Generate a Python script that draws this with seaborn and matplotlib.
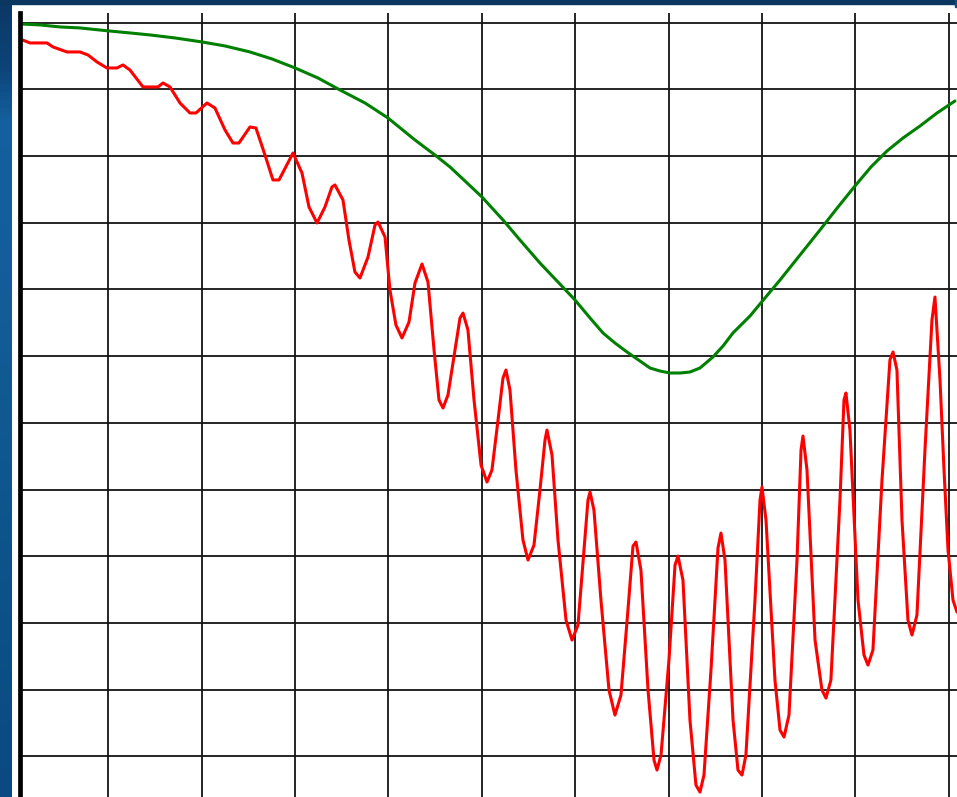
import numpy as np
import pandas as pd
import matplotlib
matplotlib.use("Agg")
import matplotlib.pyplot as plt
from matplotlib.patches import Rectangle
from matplotlib.colors import LinearSegmentedColormap
import seaborn as sns

# ---- data (x in grid divisions, y in divisions below the top line) ----
green_x = [0.055, 0.269, 0.483, 0.697, 1.007, 1.232, 1.447, 1.714, 2.003, 2.250,
           2.517, 2.753, 3.000, 3.245, 3.481, 3.749, 3.995, 4.284, 4.498, 4.659,
           4.830, 5.001, 5.226, 5.408, 5.622, 5.815, 5.997, 6.158, 6.297, 6.425,
           6.554, 6.693, 6.800, 6.907, 7.014, 7.121, 7.228, 7.335, 7.474, 7.582,
           7.688, 7.871, 8.031, 8.192, 8.406, 8.620, 8.813, 8.995, 9.166, 9.337,
           9.509, 9.691, 9.873, 10.065]
green_y = [-0.019, -0.034, -0.064, -0.079, -0.124, -0.154, -0.184, -0.229, -0.289, -0.349,
           -0.439, -0.544, -0.679, -0.829, -1.009, -1.204, -1.429, -1.759, -1.984, -2.163,
           -2.388, -2.613, -2.958, -3.258, -3.603, -3.888, -4.157, -4.427, -4.652, -4.802,
           -4.937, -5.072, -5.177, -5.222, -5.252, -5.252, -5.237, -5.177, -5.012, -4.847,
           -4.652, -4.397, -4.127, -3.858, -3.483, -3.108, -2.763, -2.448, -2.163, -1.924,
           -1.729, -1.549, -1.354, -1.174]

red_x = [0.055, 0.162, 0.344, 0.408, 0.558, 0.697, 0.783, 0.879, 0.986, 1.093,
         1.157, 1.232, 1.372, 1.532, 1.586, 1.661, 1.768, 1.875, 1.939, 2.057,
         2.142, 2.250, 2.335, 2.399, 2.517, 2.581, 2.678, 2.763, 2.828, 2.978,
         3.074, 3.149, 3.235, 3.320, 3.395, 3.427, 3.513, 3.577, 3.641, 3.695,
         3.781, 3.856, 3.888, 3.963, 4.016, 4.080, 4.145, 4.220, 4.284, 4.359,
         4.423, 4.488, 4.541, 4.584, 4.637, 4.712, 4.766, 4.798, 4.851, 4.916,
         4.991, 5.055, 5.108, 5.173, 5.226, 5.258, 5.301, 5.365, 5.440, 5.494,
         5.558, 5.622, 5.676, 5.697, 5.751, 5.815, 5.901, 5.965, 6.029, 6.093,
         6.136, 6.158, 6.200, 6.275, 6.361, 6.425, 6.489, 6.564, 6.618, 6.650,
         6.703, 6.779, 6.843, 6.875, 6.918, 7.003, 7.068, 7.100, 7.153, 7.228,
         7.292, 7.335, 7.378, 7.453, 7.528, 7.560, 7.603, 7.689, 7.742, 7.785,
         7.827, 7.924, 7.978, 7.999, 8.042, 8.138, 8.192, 8.235, 8.288, 8.374,
         8.417, 8.438, 8.481, 8.567, 8.641, 8.684, 8.737, 8.834, 8.877, 8.898,
         8.941, 9.027, 9.091, 9.134, 9.187, 9.284, 9.369, 9.402, 9.444, 9.498,
         9.562, 9.605, 9.658, 9.744, 9.819, 9.851, 9.905, 9.948, 9.991, 10.044,
         10.087]
red_y = [-0.244, -0.304, -0.304, -0.364, -0.439, -0.439, -0.484, -0.589, -0.679, -0.679,
         -0.634, -0.709, -0.964, -0.964, -0.904, -0.964, -1.204, -1.354, -1.354, -1.204,
         -1.279, -1.609, -1.804, -1.804, -1.564, -1.579, -1.984, -2.358, -2.358, -1.954,
         -2.253, -2.763, -3.003, -2.763, -2.463, -2.433, -2.658, -3.258, -3.738, -3.828,
         -3.513, -3.033, -2.988, -3.213, -4.008, -4.532, -4.727, -4.487, -3.903, -3.618,
         -3.888, -4.907, -5.657, -5.777, -5.582, -4.907, -4.427, -4.353, -4.607, -5.657,
         -6.632, -6.886, -6.706, -5.957, -5.327, -5.207, -5.507, -6.706, -7.756, -8.056,
         -7.831, -7.006, -6.257, -6.107, -6.482, -7.756, -8.956, -9.255, -9.031, -7.906,
         -7.156, -7.036, -7.306, -8.656, -10.005, -10.380, -10.080, -8.806, -7.846, -7.786,
         -8.206, -10.005, -11.054, -11.204, -10.979, -9.555, -8.131, -7.996, -8.356, -10.455,
         -11.429, -11.534, -11.279, -9.705, -7.876, -7.651, -8.056, -10.455, -11.204, -11.279,
         -10.979, -8.656, -7.156, -6.961, -7.456, -9.855, -10.605, -10.709, -10.380, -8.056,
         -6.407, -6.197, -6.706, -9.255, -10.005, -10.125, -9.855, -7.156, -5.657, -5.552,
         -6.107, -8.656, -9.480, -9.630, -9.405, -6.856, -5.057, -4.937, -5.207, -7.456,
         -8.956, -9.180, -8.881, -6.407, -4.457, -4.113, -5.357, -6.706, -7.906, -8.656,
         -8.836]

x_grid = [1, 2, 3, 4, 5, 6, 7, 8, 9, 10]
y_grid = [0, -1, -2, -3, -4, -5, -6, -7, -8, -9, -10, -11]

# ---- figure ----
sns.set_style("white")
W, H = 957, 797
fig = plt.figure(figsize=(W / 100, H / 100), dpi=100)
fig.patch.set_facecolor("white")

# blue slide background strip on the left
strip = fig.add_axes([0, 0, 12 / W, 1])
cmap = LinearSegmentedColormap.from_list(
    "slide", [(0.0, "#0b3866"), (0.08, "#0c4478"), (0.15, "#1460a0"),
              (0.40, "#125c98"), (0.55, "#0f5890"), (1.0, "#0a4a80")])
strip.imshow(np.linspace(0, 1, 200).reshape(-1, 1), aspect="auto", cmap=cmap,
             extent=[0, 1, 1, 0])
strip.set_axis_off()
fig.patches.append(Rectangle((0, (H - 4) / H), 1, 4 / H, transform=fig.transFigure,
                             color="#0b3660", zorder=5))
fig.patches.append(Rectangle((955 / W, (H - 7) / H), 2 / W, 7 / H, transform=fig.transFigure,
                             color="#0e4d85", zorder=5))

ax = fig.add_axes([20 / W, 0, 1 - 20 / W, (H - 13) / H])
ax.set_facecolor("white")
df_g = pd.DataFrame({"x": green_x, "y": green_y})
df_r = pd.DataFrame({"x": red_x, "y": red_y})
sns.lineplot(data=df_g, x="x", y="y", ax=ax, color="#008000", linewidth=2.2,
             estimator=None, sort=False)
sns.lineplot(data=df_r, x="x", y="y", ax=ax, color="#ff0000", linewidth=2.2,
             estimator=None, sort=False)

ax.set_xlim(0.055, 10.087)
ax.set_ylim(-11.608, 0.145)
ax.set_xticks(x_grid)
ax.set_yticks(y_grid)
ax.grid(True, color="#141414", linewidth=1.3)
ax.set_axisbelow(True)
ax.tick_params(axis="x", length=0, labelbottom=False)
ax.tick_params(axis="y", direction="out", length=5.8, width=1.3, color="#141414",
               labelleft=False)
for s in ["top", "right", "bottom"]:
    ax.spines[s].set_visible(False)
ax.spines["left"].set_linewidth(3.4)
ax.spines["left"].set_color("black")
ax.set_xlabel("")
ax.set_ylabel("")

fig.savefig("out.png", dpi=100, facecolor=fig.get_facecolor())
